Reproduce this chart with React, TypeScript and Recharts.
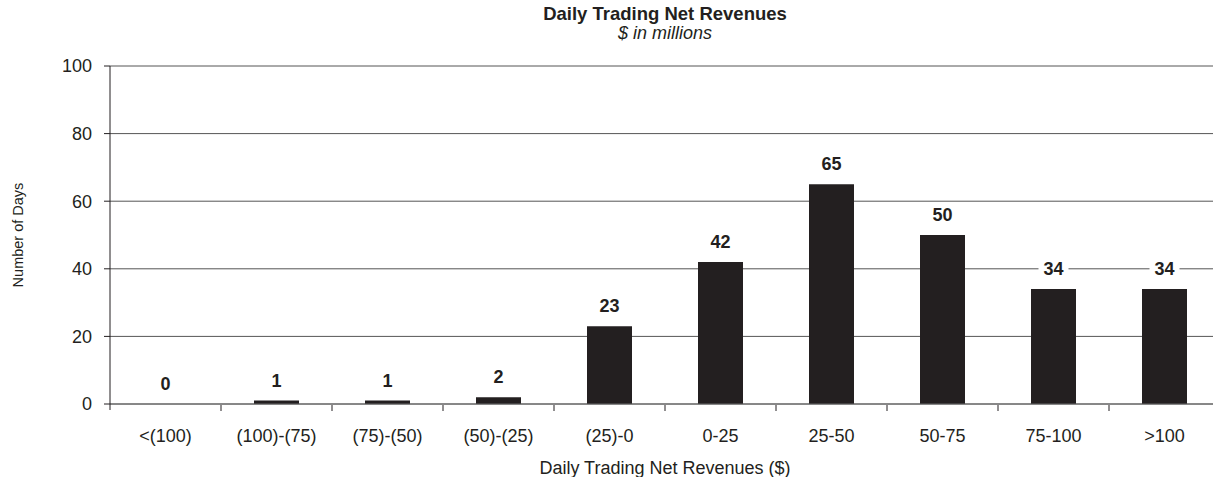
import { BarChart, Bar, XAxis, YAxis, CartesianGrid, LabelList } from 'recharts';

const categories = ['<(100)', '(100)-(75)', '(75)-(50)', '(50)-(25)', '(25)-0', '0-25', '25-50', '50-75', '75-100', '>100'];
const days = [0, 1, 1, 2, 23, 42, 65, 50, 34, 34];
const yTicks = [0, 20, 40, 60, 80, 100];

const data = categories.map((c, i) => ({ cat: c, days: days[i] }));

const FONT = '"Liberation Sans", Arial, Helvetica, sans-serif';
const INK = '#231f20';

function XTick(props: any) {
  const { x, y, payload, index, width, visibleTicksCount } = props;
  const band = width && visibleTicksCount ? width / visibleTicksCount : 111;
  const last = index === (visibleTicksCount ?? 10) - 1;
  return (
    <g>
      {index === 0 && (
        <line x1={x - band / 2} x2={x - band / 2} y1={y} y2={y + 6} stroke={INK} strokeWidth={1} />
      )}
      {!last && (
        <line x1={x + band / 2} x2={x + band / 2} y1={y + 1} y2={y + 7} stroke={INK} strokeWidth={1} />
      )}
      <text x={x} y={y + 38} textAnchor="middle" fontSize={18} fill={INK} fontFamily={FONT}>
        {payload.value}
      </text>
    </g>
  );
}

function BarValue(props: any) {
  const { x, y, width, value } = props;
  const cx = x + width / 2;
  const cy = y - 20;
  const w = String(value).length * 10 + 10;
  return (
    <g>
      <rect x={cx - w / 2} y={cy - 9} width={w} height={18} fill="#fff" />
      <text x={cx} y={cy} textAnchor="middle" dominantBaseline="central" fontSize={18} fontWeight="bold" fill={INK} fontFamily={FONT}>
        {value}
      </text>
    </g>
  );
}

export default function App() {
  return (
    <div style={{ position: 'fixed', left: 0, top: 0, width: 1213, height: 477, overflow: 'hidden', background: '#fff', fontFamily: FONT, color: INK }}>
      <div style={{ position: 'absolute', left: 0, width: 1330, top: 4, textAlign: 'center', fontSize: 18.5, fontWeight: 'bold', lineHeight: '20px' }}>
        Daily Trading Net Revenues
      </div>
      <div style={{ position: 'absolute', left: 0, width: 1330, top: 23, textAlign: 'center', fontSize: 18, fontStyle: 'italic', lineHeight: '20px' }}>
        $ in millions
      </div>
      <div style={{ position: 'absolute', left: 18, top: 235, transform: 'translate(-50%, -50%) rotate(-90deg)', whiteSpace: 'nowrap', fontSize: 14.5, lineHeight: '16px' }}>
        Number of Days
      </div>
      <div style={{ position: 'absolute', left: 0, width: 1330, top: 458, textAlign: 'center', fontSize: 18, lineHeight: '20px' }}>
        Daily Trading Net Revenues ($)
      </div>
      <BarChart width={1230} height={477} data={data} margin={{ top: 66, right: 10, bottom: 0, left: 0 }} barCategoryGap={0}>
        <CartesianGrid vertical={false} stroke="#555" />
        <XAxis
          dataKey="cat"
          height={73}
          tickLine={false}
          tickSize={0}
          tickMargin={0}
          axisLine={{ stroke: '#666' }}
          tick={<XTick />}
          interval={0}
        />
        <YAxis
          width={110}
          domain={[0, 100]}
          ticks={yTicks}
          tickSize={6}
          tickMargin={12}
          axisLine={{ stroke: INK }}
          tickLine={{ stroke: INK }}
          tick={{ fontSize: 18, fill: INK, fontFamily: FONT }}
        />
        <Bar dataKey="days" fill={INK} barSize={45} minPointSize={0.01} isAnimationActive={false}>
          <LabelList dataKey="days" content={<BarValue />} />
        </Bar>
      </BarChart>
    </div>
  );
}
